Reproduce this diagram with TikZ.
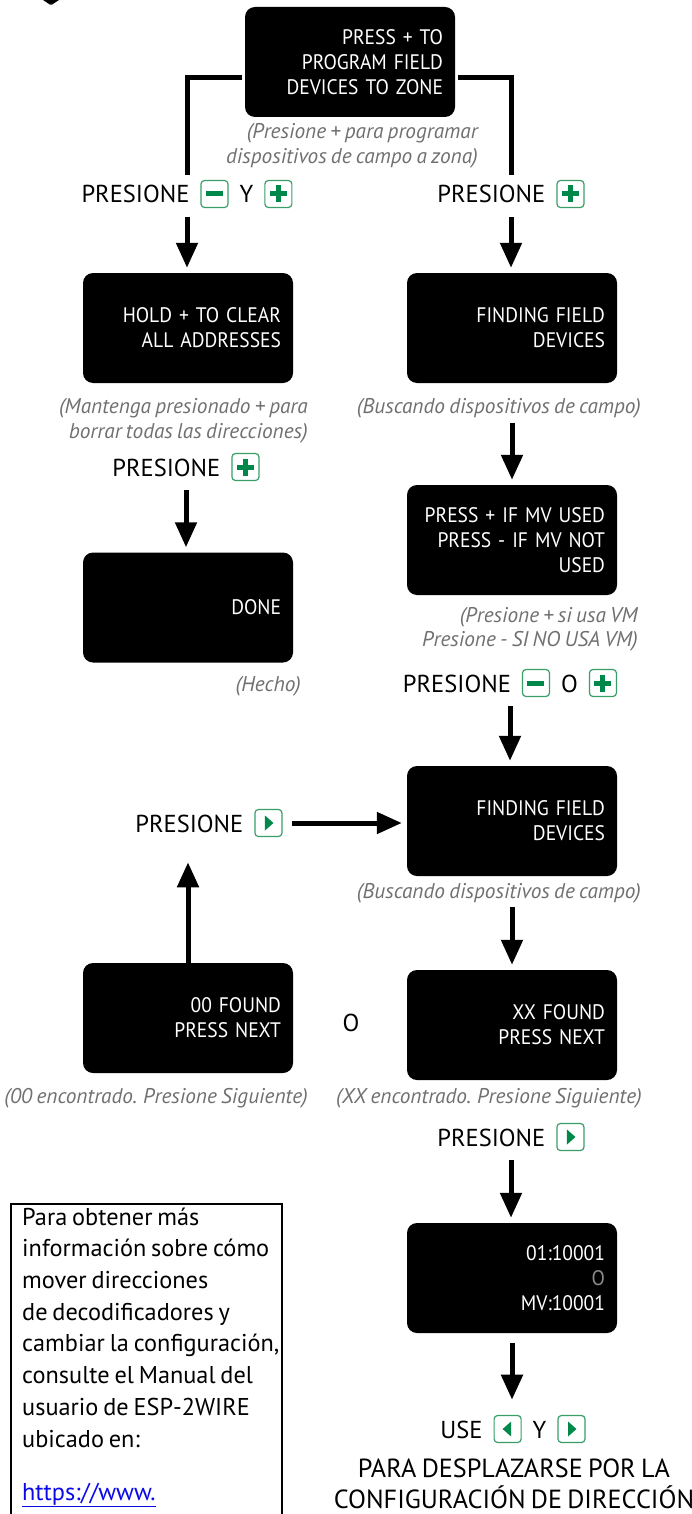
\documentclass[tikz,border=0pt]{standalone}
\usepackage{fontspec}
\setmainfont{PT Sans}[WordSpace=0.75]
\newfontfamily\screenfont{PT Sans}[FakeStretch=0.93, WordSpace=0.75]
\usetikzlibrary{arrows.meta}

\definecolor{keygreen}{HTML}{00884A}
\definecolor{keyedge}{HTML}{3A9E68}
\definecolor{capgray}{HTML}{707070}
\definecolor{dimgray}{HTML}{8A8A8A}
\definecolor{linkblue}{HTML}{0A0AE6}

\tikzset{
	screen/.style={fill=black, rounded corners=10pt, minimum height=110pt, text width=186pt, inner xsep=12pt, align=right, text=white, font=\screenfont\fontsize{21}{25}\selectfont},
	caption/.style={text=capgray, align=right, inner sep=0pt, font=\itshape\fontsize{21.3}{24.5}\selectfont},
	prompt/.style={inner sep=5pt, font=\fontsize{24.5}{31}\selectfont},
	wire/.style={line width=5pt, shorten <=3pt},
	flow/.style={line width=5pt, -{Triangle[length=25pt,width=21pt]}, shorten <=4pt, shorten >=5pt},
	keyframe/.style={draw=keyedge, line width=1.2pt, fill=white, rounded corners=3.5pt}
}

\newcommand{\kgap}{\hspace{11pt}}
\newcommand{\keybox}[1]{\tikz[baseline=0pt,x=1pt,y=1pt]{\draw[keyframe] (0,-4.5) rectangle (27,22.5); #1}}
\newcommand{\keyminus}{\keybox{\fill[keygreen] (5,6.5) rectangle (22,11.5);}}
\newcommand{\keyplus}{\keybox{\fill[keygreen] (5,6.5) rectangle (22,11.5); \fill[keygreen] (11,0.5) rectangle (16,17.5);}}
\newcommand{\keyright}{\keybox{\fill[keygreen] (10,1.5) -- (18.5,9) -- (10,16.5) -- cycle;}}
\newcommand{\keyleft}{\keybox{\fill[keygreen] (17,1.5) -- (8.5,9) -- (17,16.5) -- cycle;}}

\begin{document}
\begin{tikzpicture}[x=1pt,y=-1pt]
		\useasboundingbox (0,0) rectangle (692,1514);
		\clip (0,0) rectangle (692,1514);
		\fill (43,0) -- (50.5,5) -- (51,2.5) -- (51.5,5) -- (59,0) -- cycle;
		
		\node[screen] (topbox) at (350,62) {PRESS + TO\\PROGRAM FIELD\\DEVICES TO ZONE};
		\node[screen] (clearbox) at (188,328) {HOLD + TO CLEAR\\ALL ADDRESSES};
		\node[screen] (donebox) at (188,607.5) {DONE};
		\node[screen] (findbox) at (512,328) {FINDING FIELD\\DEVICES};
		\node[screen] (mvbox) at (512,540) {PRESS + IF MV USED\\PRESS - IF MV NOT\\USED};
		\node[screen] (searchbox) at (512,821) {FINDING FIELD\\DEVICES};
		\node[screen] (zerobox) at (188,1018) {00 FOUND\\PRESS NEXT};
		\node[screen] (xxbox) at (512,1025) {XX FOUND\\PRESS NEXT};
		\node[screen] (addrbox) at (512,1278) {01:10001\\{\color{dimgray}O}\\MV:10001};
		
		\node[caption, anchor=east] (captop) at (478,146) {(Presione + para programar\\dispositivos de campo a zona)};
		\node[caption, anchor=east] (capclear) at (308,421) {(Mantenga presionado + para\\borrar todas las direcciones)};
		\node[caption, anchor=east] (capfind) at (641,408.5) {(Buscando dispositivos de campo)};
		\node[caption, anchor=east] (capmv) at (638,629.5) {(Presione + si usa VM\\Presione - SI NO USA VM)};
		\node[caption, anchor=east] (capdone) at (301,686.5) {(Hecho)};
		\node[caption, anchor=east] (capsearch) at (641,893) {(Buscando dispositivos de campo)};
		\node[caption, anchor=east] (capzero) at (308,1098.5) {(00 encontrado. Presione Siguiente)};
		\node[caption, anchor=east] (capxx) at (642,1098.5) {(XX encontrado. Presione Siguiente)};
		
		\node[prompt, anchor=base] (bothkeys) at (187,203) {PRESIONE\kgap\keyminus\kgap Y\kgap\keyplus};
		\node[prompt, anchor=base] (plusright) at (511,203) {PRESIONE\kgap\keyplus};
		\node[prompt, anchor=base] (plusleft) at (186,476) {PRESIONE\kgap\keyplus};
		\node[prompt, anchor=base] (minusplus) at (510,692) {PRESIONE\kgap\keyminus\kgap O\kgap\keyplus};
		\node[prompt, anchor=base] (nextleft) at (209,832) {PRESIONE\kgap\keyright};
		\node[prompt, anchor=base] (nextright) at (511,1146) {PRESIONE\kgap\keyright};
		\node[prompt, anchor=base] (orlabel) at (351,1031) {O};
		\node[prompt, anchor=base] (usekeys) at (513,1438) {USE\kgap\keyleft\kgap Y\kgap\keyright};
		\node[prompt, anchor=base, align=center, inner sep=0pt, font=\fontsize{26.2}{31}\selectfont] (scrolltext) at (514,1508) {PARA DESPLAZARSE POR LA\\CONFIGURACIÓN DE DIRECCIÓN};
		
		% info panel, cut off at the bottom
		\draw[line width=1.2pt] (11,1530) |- (282,1204) -- (282,1530);
		\node[anchor=base west, align=left, inner sep=0pt, font=\fontsize{24.3}{31.7}\selectfont] (infotext) at (22,1447) {Para obtener más\\información sobre cómo\\mover direcciones\\de decodificadores y\\cambiar la configuración,\\consulte el Manual del\\usuario de ESP-2WIRE\\ubicado en:};
		\node[anchor=base west, inner sep=0pt, text=linkblue, font=\fontsize{24.3}{31.7}\selectfont] (infolink) at (22,1500) {\underline{https://www.}};
		
		\draw[wire] ([yshift=-16pt]topbox.west) -| (bothkeys.north);
		\draw[wire] ([yshift=-16pt]topbox.east) -| (plusright.north);
		\draw[flow] (bothkeys.south) -- (bothkeys.south |- clearbox.north);
		\draw[flow] (plusright.south) -- (plusright.south |- findbox.north);
		\draw[flow] (plusleft.south) -- (plusleft.south |- donebox.north);
		\draw[flow] (findbox.south |- capfind.south) -- (mvbox.north);
		\draw[flow] (minusplus.south) -- (minusplus.south |- searchbox.north);
		\draw[flow] (searchbox.south |- capsearch.south) -- (xxbox.north);
		\draw[flow] (nextright.south) -- (nextright.south |- addrbox.north);
		\draw[flow, shorten <=10pt, shorten >=10pt] (addrbox.south) -- (addrbox.south |- usekeys.north);
		\draw[flow, shorten <=0pt, shorten >=20pt] (zerobox.north) -- (zerobox.north |- nextleft.south);
		\draw[flow] (nextleft.east) -- (nextleft.east -| searchbox.west);
\end{tikzpicture}
\end{document}
